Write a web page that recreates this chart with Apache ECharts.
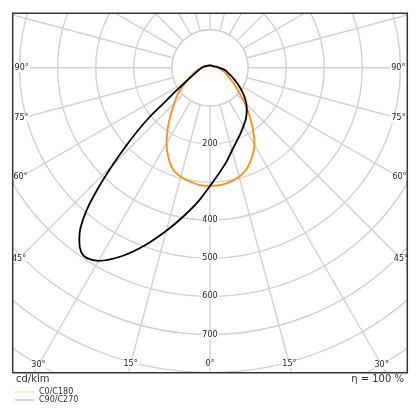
<!DOCTYPE html>
<html>
<head>
<meta charset="utf-8">
<script src="https://cdn.jsdelivr.net/npm/echarts@6.0.0/dist/echarts.min.js"></script>
<style>
  html, body { margin: 0; padding: 0; background: #fff; }
  #chart { width: 420px; height: 420px; }
</style>
</head>
<body>
<div id="chart"></div>
<script>
// C0 (right) / C180 (left) plane, cd/klm against gamma
const c0Gamma = [0, 5, 10, 15, 20, 25, 30, 35, 40, 45, 50, 55, 60, 65, 70, 75, 80, 85, 90, 100, 110, 120, 135, 150, 165, 180]
const c0Values = [310, 309, 304, 296, 282, 260, 233, 196, 160, 128, 98, 80, 64, 52, 44, 38, 31, 26, 22, 15, 11, 9, 7, 6, 6, 6]
const c180Gamma = [0, 5, 10, 15, 20, 25, 30, 35, 40, 45, 50, 55, 60, 65, 70, 75, 80, 85, 90, 100, 110, 120, 135, 150, 165, 180]
const c180Values = [310, 309, 303, 296, 284, 259, 228, 193, 160, 133, 112, 90, 71, 59, 48, 40, 33, 27, 23, 16, 11, 9, 7, 6, 6, 6]

// C90 (right) / C270 (left) plane
const c90Gamma = [0, 5, 10, 15, 20, 25, 30, 35, 40, 45, 50, 55, 60, 65, 70, 75, 80, 85, 90, 95, 100, 105, 110, 120, 135, 150, 165, 180]
const c90Values = [310, 277, 250, 224, 205, 190, 176, 164, 150, 135, 118, 100, 83, 69, 57, 48, 42, 33, 25, 20, 17, 13, 12, 9, 8, 6, 7, 6]
const c270Gamma = [0, 5, 10, 15, 20, 25, 30, 33, 35, 37, 39, 41, 43, 45, 47, 49, 51, 53, 55, 57, 60, 65, 70, 75, 80, 85, 90, 95, 100, 105, 110, 120, 135, 150, 165, 180]
const c270Values = [310, 352, 395, 443, 495, 545, 585, 595, 590, 570, 540, 492, 428, 362, 303, 250, 200, 145, 118, 95, 74, 53, 41, 34, 29, 25, 22, 19, 17, 14, 12, 10, 8, 7, 6, 6]

const radiusLabels = [200, 400, 500, 600, 700]
const sideAngleLabels = [90, 75, 60, 45]
const bottomAngleLabels = [30, 15, 0]
const legendNames = ['C0/C180', 'C90/C270']

// layout
const cx = 210
const cy = 67.8
const px100 = 38.1
const frame = { l: 12.7, t: 13.2, r: 407.3, b: 372.8 }
const font = 'DejaVu Sans'
const gridColor = '#d0d0d0'

// left half uses angle 360 - gamma, right half gamma
function planePair(leftG, leftV, rightG, rightV) {
  let pts = []
  for (let i = leftG.length - 1; i >= 1; i--) pts.push([leftV[i], 360 - leftG[i]])
  for (let i = 0; i < rightG.length; i++) pts.push([rightV[i], rightG[i]])
  return pts
}

// where a spoke meets the frame, stepped 9px back toward the centre
function angleText(g, side) {
  let rad = g * Math.PI / 180
  let x, y
  if (side === 'bottom') {
    y = frame.b
    x = cx + (g !== 0 ? (y - cy) * Math.tan(rad) : 0)
  } else {
    x = side === 'left' ? frame.l : frame.r
    y = cy + (g === 90 ? 0 : Math.abs(x - cx) / Math.tan(rad))
  }
  let dx = cx - x, dy = cy - y
  let len = Math.sqrt(dx * dx + dy * dy)
  return { x: x + dx / len * 9, y: y + dy / len * 9 }
}

let texts = []
sideAngleLabels.forEach(g => {
  ;['left', 'right'].forEach(side => texts.push({ g, p: angleText(g, side) }))
})
bottomAngleLabels.forEach(g => {
  let p = angleText(g, 'bottom')
  texts.push({ g, p })
  if (g !== 0) texts.push({ g, p: { x: 2 * cx - p.x, y: p.y } })
})

const chart = echarts.init(document.getElementById('chart'))

const option = {
  animation: false,
  backgroundColor: '#fff',
  polar: {
    center: [cx, cy],
    radius: [0, px100 * 10],
  },
  angleAxis: {
    type: 'value',
    min: 0,
    max: 360,
    interval: 15,
    startAngle: 270,
    clockwise: false,
    axisLine: { show: false },
    axisTick: { show: false },
    axisLabel: { show: false },
    splitLine: { lineStyle: { color: gridColor, width: 1.4 } },
  },
  radiusAxis: {
    type: 'value',
    min: 0,
    max: 1000,
    interval: 100,
    axisLine: { show: false },
    axisTick: { show: false },
    axisLabel: {
      margin: 0,
      align: 'center',
      verticalAlign: 'middle',
      formatter: v => (radiusLabels.includes(v) ? '{b|' + v + '}' : ''),
      rich: {
        b: { backgroundColor: '#fff', padding: [1, 1], fontSize: 8, fontFamily: font, color: '#222' },
      },
    },
    splitLine: { lineStyle: { color: gridColor, width: 1.4 } },
  },
  legend: {
    orient: 'vertical',
    left: 15,
    top: 388,
    padding: 0,
    itemGap: 0,
    itemWidth: 19,
    itemHeight: 1,
    icon: 'rect',
    data: [
      { name: legendNames[0], itemStyle: { color: '#f3d6ad' } },
      { name: legendNames[1], itemStyle: { color: '#a3a7ab' } },
    ],
    textStyle: { fontSize: 8, lineHeight: 8, fontFamily: font, color: '#333' },
  },
  series: [
    {
      name: legendNames[0],
      type: 'line',
      coordinateSystem: 'polar',
      clip: false,
      symbol: 'none',
      smooth: 0.3,
      data: planePair(c180Gamma, c180Values, c0Gamma, c0Values),
      lineStyle: { color: '#f5901e', width: 1.8 },
      itemStyle: { color: '#f5901e' },
      z: 3,
    },
    {
      name: legendNames[1],
      type: 'line',
      coordinateSystem: 'polar',
      clip: false,
      symbol: 'none',
      smooth: 0.25,
      data: planePair(c270Gamma, c270Values, c90Gamma, c90Values),
      lineStyle: { color: '#000', width: 1.8 },
      itemStyle: { color: '#000' },
      z: 4,
    },
  ],
  graphic: [
    // white masks outside the frame, and the empty disc inside 100 cd/klm
    { type: 'rect', z: 1, silent: true, shape: { x: 0, y: 0, width: 420, height: frame.t }, style: { fill: '#fff' } },
    { type: 'rect', z: 1, silent: true, shape: { x: 0, y: frame.b, width: 420, height: 420 - frame.b }, style: { fill: '#fff' } },
    { type: 'rect', z: 1, silent: true, shape: { x: 0, y: 0, width: frame.l, height: 420 }, style: { fill: '#fff' } },
    { type: 'rect', z: 1, silent: true, shape: { x: frame.r, y: 0, width: 420 - frame.r, height: 420 }, style: { fill: '#fff' } },
    { type: 'circle', z: 1, silent: true, shape: { cx, cy, r: px100 }, style: { fill: '#fff', stroke: gridColor, lineWidth: 1.4 } },
    ...texts.map(t => ({
      type: 'text',
      z: 6,
      silent: true,
      style: {
        text: t.g + '°',
        x: t.p.x,
        y: t.p.y,
        align: 'center',
        verticalAlign: 'middle',
        font: '8px "' + font + '"',
        fill: '#222',
        backgroundColor: '#fff',
        padding: [0, 1],
      },
    })),
    {
      type: 'rect', z: 10, silent: true,
      shape: { x: frame.l, y: frame.t, width: frame.r - frame.l, height: frame.b - frame.t },
      style: { fill: 'none', stroke: '#333', lineWidth: 1.5 },
    },
    {
      type: 'text', z: 10, silent: true,
      style: { text: 'cd/klm', x: 16, y: 379.5, align: 'left', verticalAlign: 'middle', font: '10px "' + font + '"', fill: '#333' },
    },
    {
      type: 'text', z: 10, silent: true,
      style: { text: 'η = 100 %', x: 404, y: 379.5, align: 'right', verticalAlign: 'middle', font: '10px "' + font + '"', fill: '#333' },
    },
  ],
}

chart.setOption(option)
</script>
</body>
</html>
